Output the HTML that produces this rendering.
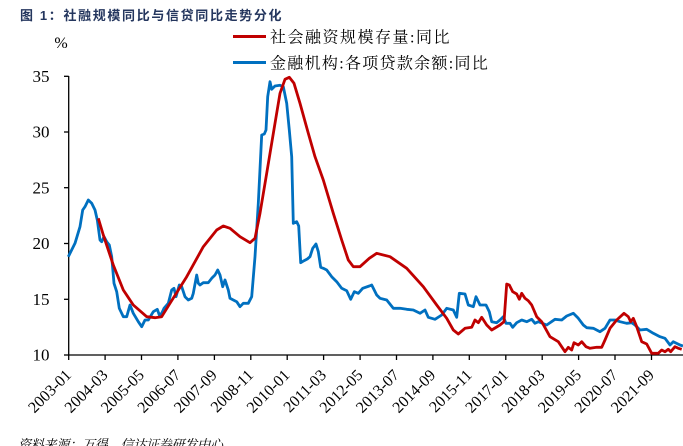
<!DOCTYPE html>
<html><head><meta charset="utf-8"><style>
html,body{margin:0;padding:0;background:#fff;}
svg{display:block;}
</style></head><body>
<svg width="683" height="446" viewBox="0 0 683 446" xmlns="http://www.w3.org/2000/svg">
<rect width="683" height="446" fill="#fff"/>
<text x="20" y="20" font-family="'Liberation Sans','Noto Sans CJK SC',sans-serif" font-size="13" font-weight="bold" fill="#24365e" letter-spacing="1.65">图 1：社融规模同比与信贷同比走势分化</text>
<text x="61" y="48" text-anchor="middle" font-family="'Liberation Serif',serif" font-size="16" fill="#000">%</text>
<!-- legend -->
<line x1="233" y1="36.5" x2="266" y2="36.5" stroke="#c00000" stroke-width="3"/>
<text x="270" y="42.5" font-family="'Liberation Serif','Noto Serif CJK SC',serif" font-size="16" letter-spacing="1.5" fill="#000">社会融资规模存量:同比</text>
<line x1="233" y1="62.5" x2="266" y2="62.5" stroke="#0070c0" stroke-width="3"/>
<text x="270" y="68.5" font-family="'Liberation Serif','Noto Serif CJK SC',serif" font-size="16" letter-spacing="1.3" fill="#000">金融机构:各项贷款余额:同比</text>
<!-- axes -->
<g stroke="#000" stroke-width="1.3" fill="none">
<line x1="68.7" y1="76" x2="68.7" y2="355"/>
<line x1="68" y1="355" x2="683" y2="355"/>
<line x1="64" y1="76.3" x2="68.7" y2="76.3"/>
<line x1="64" y1="132" x2="68.7" y2="132"/>
<line x1="64" y1="187.7" x2="68.7" y2="187.7"/>
<line x1="64" y1="243.5" x2="68.7" y2="243.5"/>
<line x1="64" y1="299.3" x2="68.7" y2="299.3"/>
<line x1="64" y1="355" x2="68.7" y2="355"/>
<line x1="68.7" y1="355" x2="68.7" y2="360"/>
<line x1="105.1" y1="355" x2="105.1" y2="360"/>
<line x1="141.5" y1="355" x2="141.5" y2="360"/>
<line x1="177.9" y1="355" x2="177.9" y2="360"/>
<line x1="214.4" y1="355" x2="214.4" y2="360"/>
<line x1="250.8" y1="355" x2="250.8" y2="360"/>
<line x1="287.2" y1="355" x2="287.2" y2="360"/>
<line x1="323.6" y1="355" x2="323.6" y2="360"/>
<line x1="360.1" y1="355" x2="360.1" y2="360"/>
<line x1="396.5" y1="355" x2="396.5" y2="360"/>
<line x1="432.9" y1="355" x2="432.9" y2="360"/>
<line x1="469.3" y1="355" x2="469.3" y2="360"/>
<line x1="505.8" y1="355" x2="505.8" y2="360"/>
<line x1="542.2" y1="355" x2="542.2" y2="360"/>
<line x1="578.6" y1="355" x2="578.6" y2="360"/>
<line x1="615.0" y1="355" x2="615.0" y2="360"/>
<line x1="651.5" y1="355" x2="651.5" y2="360"/>
</g>
<g font-family="'Liberation Serif',serif" font-size="17" fill="#000" text-anchor="end">
<text x="49.5" y="82">35</text>
<text x="49.5" y="137.7">30</text>
<text x="49.5" y="193.4">25</text>
<text x="49.5" y="249.2">20</text>
<text x="49.5" y="305">15</text>
<text x="49.5" y="360.7">10</text>
</g>
<g font-family="'Liberation Serif',serif" font-size="16" fill="#000" text-anchor="end">
<text transform="translate(72.2,376) rotate(-45)">2003-01</text>
<text transform="translate(108.6,376) rotate(-45)">2004-03</text>
<text transform="translate(145,376) rotate(-45)">2005-05</text>
<text transform="translate(181.4,376) rotate(-45)">2006-07</text>
<text transform="translate(217.9,376) rotate(-45)">2007-09</text>
<text transform="translate(254.3,376) rotate(-45)">2008-11</text>
<text transform="translate(290.7,376) rotate(-45)">2010-01</text>
<text transform="translate(327.1,376) rotate(-45)">2011-03</text>
<text transform="translate(363.6,376) rotate(-45)">2012-05</text>
<text transform="translate(400,376) rotate(-45)">2013-07</text>
<text transform="translate(436.4,376) rotate(-45)">2014-09</text>
<text transform="translate(472.8,376) rotate(-45)">2015-11</text>
<text transform="translate(509.3,376) rotate(-45)">2017-01</text>
<text transform="translate(545.7,376) rotate(-45)">2018-03</text>
<text transform="translate(582.1,376) rotate(-45)">2019-05</text>
<text transform="translate(618.5,376) rotate(-45)">2020-07</text>
<text transform="translate(655,376) rotate(-45)">2021-09</text>
</g>
<!-- blue series -->
<polyline fill="none" stroke="#0070c0" stroke-width="2.8" stroke-linejoin="round" points="
68.3,256.7 75,243.3 80,226.7 82.7,210 85,206.7 88.3,200 91.7,203.3 95,210 97.3,220 100,240 101.7,241.7 104,236.7 106.7,241.7 109.3,245 111.7,256.7 114,283.3 116.7,291.7 119.3,308.3 123.3,316.7 126.7,316.7 130,305 133.3,313.3 138.3,321.7 141.7,326.7 145,320 148.3,320 153.3,311.7 157.3,309.3 159.3,315 161.7,313.3 164,308.3 168.3,303.3 171.7,290 174,288.3 176,296.7 179.3,285 181.7,286.7 185,296.7 188.3,300 191.7,298.3 193.3,293.3 196.7,275 198.3,283.3 200,285 203.3,282.7 208.3,282.7 211.7,278.3 215,275 217.7,270 220,275 222.7,286.7 225,280 228.3,290 230,298.3 233.3,300 236.7,301.7 240,306.7 243.3,303.3 248.3,303.3 251.7,296.7 255,256.7 258.3,203.3 261.7,135 264.3,134 266,130 267.7,96.7 270,81.7 271.7,89.3 275,86 280,85.3 283.3,86.7 286.7,103.3 289.3,130 291.7,156.7 293.3,223.3 296.7,221.7 298.7,226 300.7,262.7 304,260.7 307.3,259 310,256.7 312.7,248.3 316,244 318.3,251.7 320.7,267.3 323.3,268.3 326.7,270 331.7,276.7 336.7,281.7 341.7,288.3 346.7,290.7 350.7,299.3 354.3,291.7 358.3,293.3 362.7,288.3 369.3,286 371.7,285 376.7,295 380,298.3 386.7,300 393.3,308.3 400,308.3 406.7,309.3 413.3,310 420,313.3 425,310 428.3,317.3 435,319.3 441.7,315 446.7,308.3 453.3,310 456.7,317.3 459.3,293.3 465,294 468.3,305 473.3,306.7 476,296.7 480,305 486,305 489.3,311.7 491.7,321.7 496.7,322.7 500,320 503.3,316.7 506,323.3 510,323.3 512.7,327.3 516.7,322.7 521.7,320 526.7,321.7 531.7,319.3 535,323.3 538.3,321.7 546.7,325 555,319.3 561.7,320 566.7,316 573.3,313.3 578.3,318.3 583.3,325 586.7,327.7 593.3,328.3 600,331.7 605,328.3 610,320 615,320 620,321.7 626.7,323.3 631.7,322.7 635,325 640,330 646.7,329.3 653.3,333.3 660,336.7 665,338.3 670,345 673.3,341.7 680,345 683,346"/>
<!-- red series -->
<polyline fill="none" stroke="#c00000" stroke-width="2.8" stroke-linejoin="round" points="
98.3,218.3 103.3,235 113.3,265 123.3,290 133.3,305 146.7,316.7 155,317.7 161.7,316.7 170,303.3 186.7,276.7 203.3,246.7 216.7,230 223.3,226 230,228.3 240,236.7 250,242.7 255,238.3 260,213.3 266.7,173.3 275,123.3 280,93.3 285,79.3 289.3,77.3 294,83.3 300,103.3 308.3,133.3 315,156.7 323.3,180 333.3,213.3 341.7,240 348.3,260 353.3,266.7 360,266.7 369.3,258.3 376.7,253.3 390,256.7 406.7,268.3 423.3,286.7 436.7,305 446.7,318.3 453.3,330 458.3,334 465,328.3 471.7,327.3 475,320 478.3,322.7 481.7,317.3 486.7,325 491.7,330 500,325 504,321.7 506.7,284 509.3,285 512.7,291.7 516.7,294 519.3,299.3 521.7,293.3 525,298.3 528.3,300.7 531.7,305 536.7,316.7 541.7,321.7 550,336.7 558.3,341.7 565,351.7 568.3,347.3 571.7,350 574,342.7 578.3,345 581.7,341.7 586,346.7 590,348.3 596.7,347.3 601.7,347.3 605,340 610,328.3 616.7,320 624,313.3 628.3,316.7 630.7,321.7 633.3,318.3 636.7,326.7 641.7,341.7 646.7,344 651.7,353.3 658.3,353.3 661.7,350 665,351.7 668.3,349.3 670.7,351.7 675,346.7 678.3,348.3 681.7,349.3"/>
<text x="18" y="449" font-family="'Liberation Serif','Noto Serif CJK SC',serif" font-size="13" font-style="italic" letter-spacing="-0.2" fill="#000">资料来源：万得，信达证券研发中心</text>
</svg>
</body></html>
